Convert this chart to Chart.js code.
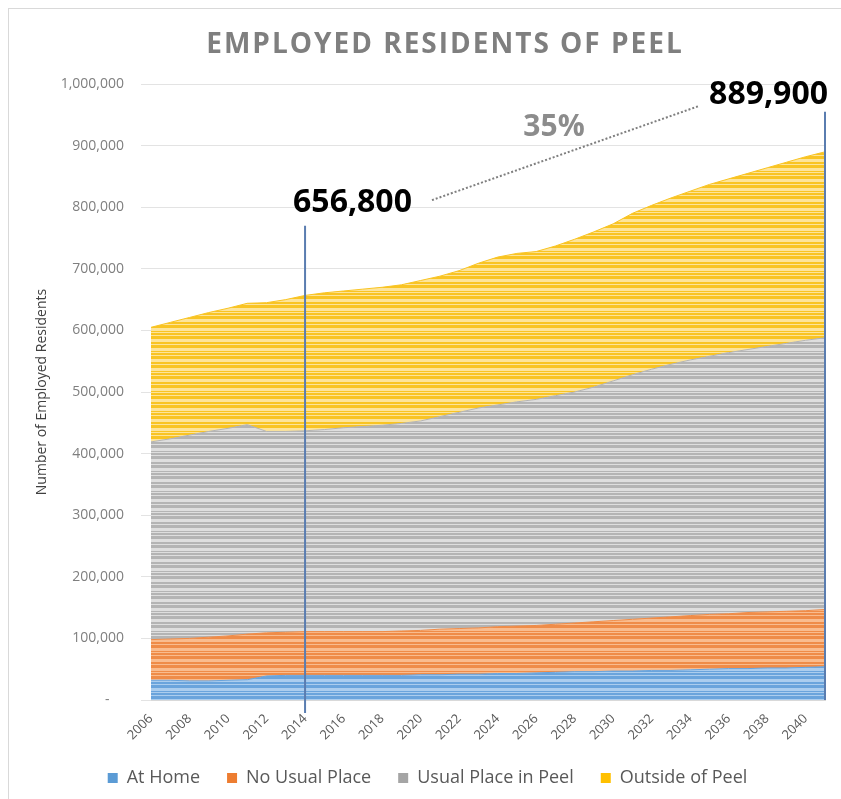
<!DOCTYPE html>
<html>
<head>
<meta charset="utf-8">
<script src="https://cdn.jsdelivr.net/npm/chart.js@4"></script>
<style>
    body { margin: 0; background: #fff; }
    #wrap { position: relative; width: 841px; height: 799px; overflow: hidden; }
    #frame { position: absolute; left: 8px; top: 8px; width: 900px; height: 900px; border: 1px solid #d9d9d9; }
    canvas { position: absolute; left: 0; top: 0; }
</style>
</head>
<body>
<div id="wrap">
    <div id="frame"></div>
    <canvas id="peelChart" width="841" height="799"></canvas>
</div>
<script>
    // Employed residents by place of work, 2006-2041
    const years = [];
    for (let y = 2006; y <= 2041; y++) years.push(y);

    const atHome = [32000, 32000, 31000, 31000, 32000, 33000, 39000, 40000, 40000, 40000, 40000, 40000,
        40000, 40000, 41000, 41000, 42000, 42000, 43000, 43000, 44000, 45000, 46000, 46000,
        47000, 47000, 48000, 48000, 49000, 50000, 51000, 51000, 52000, 52000, 53000, 54000];
    const noUsualPlace = [66000, 67000, 69000, 71000, 72000, 74000, 70000, 70000, 71000, 71000, 71000, 71000,
        71000, 72000, 72000, 74000, 74000, 75000, 76000, 77000, 77000, 78000, 79000, 81000,
        82000, 84000, 85000, 87000, 88000, 89000, 89000, 91000, 91000, 92000, 92000, 93000];
    const usualPlaceInPeel = [321000, 325000, 330000, 334000, 337000, 340000, 327000, 326000, 326000, 328000, 331000, 333000,
        335000, 337000, 340000, 345000, 351000, 357000, 360000, 364000, 367000, 371000, 375000, 381000,
        389000, 397000, 404000, 410000, 415000, 419000, 424000, 427000, 431000, 435000, 439000, 441000];
    const outsideOfPeel = [186000, 189000, 191000, 193000, 195000, 197000, 209000, 214000, 219800, 222000, 222000, 223000,
        224000, 225000, 228000, 228000, 230000, 235000, 240000, 241000, 240000, 243000, 248000, 252000,
        255000, 262000, 266000, 270000, 274000, 279000, 282000, 286000, 290000, 294000, 298000, 301900];

    const seriesNames = ['At Home', 'No Usual Place', 'Usual Place in Peel', 'Outside of Peel'];
    const markYears = [2014, 2041];

    const totals = years.map((_, i) => atHome[i] + noUsualPlace[i] + usualPlaceInPeel[i] + outsideOfPeel[i]);

    // Solid colours for the legend, banded patterns for the areas
    const solid = ['#5b9bd5', '#ed7d31', '#a5a5a5', '#ffc000'];
    const light = ['#abcdee', '#f9bc8e', '#dedede', '#fde49a'];
    const mid = ['#6aa4dc', '#ef8c48', '#b4b4b4', '#f9c423'];

    function stripes(base, pale) {
        const c = document.createElement('canvas');
        c.width = 4;
        c.height = 20;
        const g = c.getContext('2d');
        const rows = [1, 1, 0, 0, 1, 0, 0, 0, 1, 1, 1, 0, 1, 0, 0, 1, 0, 0, 0, 1];
        rows.forEach((r, i) => {
            g.fillStyle = r ? pale : base;
            g.fillRect(0, i, 4, 1);
        });
        return g.createPattern(c, 'repeat');
    }

    const fmt = (v) => v.toLocaleString('en-US');

    // Title, reference lines and growth callout
    const overlay = {
        id: 'overlay',
        afterDatasetsDraw(chart) {
            const ctx = chart.ctx;
            const xs = chart.scales.x;
            const ys = chart.scales.y;
            const i0 = years.indexOf(markYears[0]);
            const i1 = years.indexOf(markYears[1]);
            const x0 = xs.getPixelForValue(i0);
            const x1 = xs.getPixelForValue(i1);
            const bottom = chart.chartArea.bottom;

            ctx.save();
            ctx.strokeStyle = '#5a7db0';
            ctx.lineWidth = 2;
            ctx.beginPath();
            ctx.moveTo(x0, ys.getPixelForValue(770000));
            ctx.lineTo(x0, bottom + 13);
            ctx.moveTo(x1, ys.getPixelForValue(955000));
            ctx.lineTo(x1, bottom);
            ctx.stroke();

            ctx.font = 'bold 32px "Open Sans"';
            ctx.fillStyle = '#000';
            ctx.textBaseline = 'alphabetic';
            const t0 = fmt(totals[i0]);
            const t1 = fmt(totals[i1]);
            ctx.textAlign = 'left';
            const lx0 = x0 - 12;
            const ly0 = ys.getPixelForValue(792000);
            ctx.fillText(t0, lx0, ly0);
            const w0 = ctx.measureText(t0).width;
            ctx.textAlign = 'right';
            const lx1 = x1 + 3;
            const ly1 = ys.getPixelForValue(967000);
            ctx.fillText(t1, lx1, ly1);
            const w1 = ctx.measureText(t1).width;

            // dotted connector between the two totals
            const ax = lx0 + w0 + 20, ay = ly0 - 12;
            const bx = lx1 - w1 - 11, by = ly1 + 2;
            ctx.strokeStyle = '#7f7f7f';
            ctx.lineWidth = 2;
            ctx.setLineDash([2, 2]);
            ctx.beginPath();
            ctx.moveTo(ax, ay);
            ctx.lineTo(bx, by);
            ctx.stroke();
            ctx.setLineDash([]);

            const growth = Math.round((totals[i1] / totals[i0] - 1) * 100);
            ctx.font = 'bold 30px "Open Sans"';
            ctx.fillStyle = '#8c8c8c';
            ctx.textAlign = 'center';
            ctx.textBaseline = 'middle';
            ctx.fillText(growth + '%', (ax + bx) / 2 - 11, (ay + by) / 2 - 26);

            ctx.font = 'bold 28px "Open Sans"';
            ctx.fillStyle = '#7f7f7f';
            ctx.letterSpacing = '2px';
            ctx.fillText('EMPLOYED RESIDENTS OF PEEL', 445, 45);
            ctx.restore();
        }
    };

    new Chart(document.getElementById('peelChart'), {
        type: 'line',
        data: {
            labels: years.map(String),
            datasets: [atHome, noUsualPlace, usualPlaceInPeel, outsideOfPeel].map((d, k) => ({
                label: seriesNames[k],
                data: d,
                backgroundColor: stripes(mid[k], light[k]),
                borderColor: mid[k],
                borderWidth: 1,
                pointRadius: 0,
                tension: 0,
                fill: k === 0 ? 'origin' : '-1'
            }))
        },
        options: {
            responsive: false,
            animation: false,
            layout: { padding: { left: 30, right: 16, top: 84, bottom: 2 } },
            plugins: {
                title: { display: false },
                tooltip: { enabled: false },
                legend: {
                    position: 'bottom',
                    labels: {
                        boxWidth: 10,
                        boxHeight: 10,
                        padding: 27,
                        color: '#595959',
                        font: { family: 'Open Sans', size: 18 },
                        generateLabels: (chart) => chart.data.datasets.map((ds, k) => ({
                            text: ds.label,
                            fillStyle: solid[k],
                            strokeStyle: solid[k],
                            lineWidth: 0,
                            fontColor: '#595959',
                            datasetIndex: k
                        }))
                    }
                }
            },
            scales: {
                x: {
                    offset: false,
                    grid: { display: false },
                    border: { color: '#d9d9d9' },
                    ticks: {
                        autoSkip: false,
                        minRotation: 45,
                        maxRotation: 45,
                        color: '#595959',
                        font: { family: 'Open Sans', size: 13 },
                        callback: (v, i) => (years[i] % 2 === 0 ? years[i] : '')
                    },
                    afterFit: (scale) => { scale.height = 42; }
                },
                y: {
                    stacked: true,
                    min: 0,
                    max: 1000000,
                    grid: { color: '#e3e3e3', tickLength: 10 },
                    border: { display: false },
                    ticks: {
                        stepSize: 100000,
                        padding: 17,
                        color: '#7f7f7f',
                        font: { family: 'Open Sans', size: 14 },
                        callback: (v) => (v === 0 ? '-    ' : fmt(v))
                    },
                    title: {
                        display: true,
                        text: 'Number of Employed Residents',
                        color: '#404040',
                        font: { family: 'Open Sans', size: 14 }
                    },
                    afterFit: (scale) => { scale.width = 121; }
                }
            }
        },
        plugins: [overlay]
    });
</script>
</body>
</html>
